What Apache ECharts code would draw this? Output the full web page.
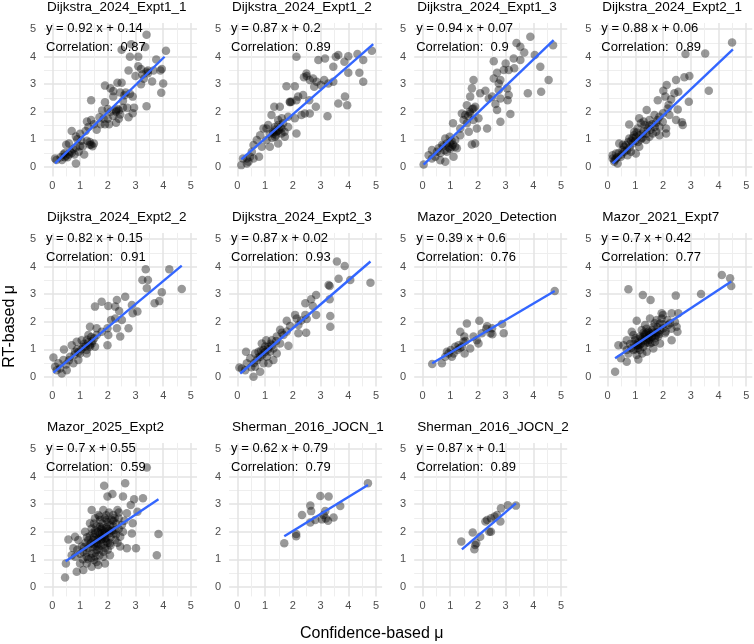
<!DOCTYPE html>
<html>
<head>
<meta charset="utf-8">
<script src="https://cdn.jsdelivr.net/npm/echarts@6/dist/echarts.min.js"></script>
<style>
  html, body { margin: 0; padding: 0; background: #fff; }
  #chart { width: 754px; height: 644px; }
</style>
</head>
<body>
<div id="chart"></div>
<script>
// facet titles and fit annotations
const panelNames = ['Dijkstra_2024_Expt1_1', 'Dijkstra_2024_Expt1_2', 'Dijkstra_2024_Expt1_3', 'Dijkstra_2024_Expt2_1',
  'Dijkstra_2024_Expt2_2', 'Dijkstra_2024_Expt2_3', 'Mazor_2020_Detection', 'Mazor_2021_Expt7',
  'Mazor_2025_Expt2', 'Sherman_2016_JOCN_1', 'Sherman_2016_JOCN_2'];
const equations = ['y = 0.92 x + 0.14', 'y = 0.87 x + 0.2', 'y = 0.94 x + 0.07', 'y = 0.88 x + 0.06',
  'y = 0.82 x + 0.15', 'y = 0.87 x + 0.02', 'y = 0.39 x + 0.6', 'y = 0.7 x + 0.42',
  'y = 0.7 x + 0.55', 'y = 0.62 x + 0.79', 'y = 0.87 x + 0.1'];
const correlations = ['0.87', '0.89', '0.9', '0.89', '0.91', '0.93', '0.76', '0.77', '0.59', '0.79', '0.89'];

// fit line end points
const fitLines = [
  [[0.1, 0.12], [4.05, 4.0]],
  [[0.14, 0.27], [4.9, 4.46]],
  [[0.04, 0.08], [4.73, 4.6]],
  [[0.18, 0.12], [4.52, 4.27]],
  [[0.04, 0.15], [4.67, 4.04]],
  [[0.1, 0.12], [4.8, 4.19]],
  [[0.35, 0.49], [4.77, 3.12]],
  [[0.27, 0.67], [4.46, 3.46]],
  [[0.48, 0.93], [3.83, 3.18]],
  [[1.69, 1.84], [4.71, 3.7]],
  [[1.42, 1.36], [3.37, 3.03]]
];

const tickValues = [0, 1, 2, 3, 4, 5];
const minorValues = [0.5, 1.5, 2.5, 3.5, 4.5];

// [confidence-based mu, RT-based mu]
const dijkstra1_1 = [[3.4,4.8],[2.85,4.45],[3.35,4.35],[2.5,4.25],[4.1,4.22],[2.8,4.0],[3.1,4.0],[3.75,3.9],[3.95,3.55],[3.9,3.5],
  [3.65,3.5],[2.75,3.5],[3.1,3.65],[3.2,3.55],[3.25,3.35],[3.45,3.5],[3.0,3.3],[3.3,3.2],[3.2,3.0],[4.0,3.03],
  [3.93,2.69],[2.5,3.05],[2.35,3.05],[1.9,2.95],[2.1,2.85],[2.2,2.75],[2.45,2.7],[2.65,2.7],[2.6,2.6],[2.8,2.65],
  [2.2,2.55],[1.4,2.42],[1.9,2.35],[2.0,2.1],[1.8,2.05],[2.1,2.0],[2.3,2.05],[2.35,2.1],[2.55,2.15],[2.7,2.15],
  [2.95,2.15],[2.9,1.95],[2.2,1.85],[2.4,1.75],[2.75,1.8],[2.0,1.75],[1.9,1.55],[2.05,1.55],[2.3,1.6],[1.75,1.55],
  [1.5,1.55],[1.25,1.65],[1.4,1.7],[1.2,1.3],[1.0,1.2],[0.9,1.0],[0.7,1.3],[0.85,1.1],[1.05,0.95],[0.5,0.8],
  [0.6,0.85],[0.75,0.65],[1.1,0.75],[1.4,0.8],[1.45,0.75],[1.35,0.9],[1.25,0.95],[1.5,0.85],[1.15,0.45],[0.85,0.7],
  [0.95,0.55],[0.6,0.45],[0.55,0.35],[0.45,0.35],[0.3,0.35],[0.1,0.3],[0.15,0.25],[0.35,0.25],[0.45,0.5],[0.85,0.12],
  [0.65,0.55],[0.8,0.45],[1.0,0.75],[1.3,1.45],[1.6,1.35],[1.7,1.8],[1.85,1.75],[2.45,1.9],[2.55,2.4],[2.9,2.55],
  [3.4,2.2],[3.6,3.1],[3.45,3.4],[0.5,0.4],[0.7,0.5],[0.4,0.45],[1.35,0.8],[2.3,2.0],[2.4,2.05],[3.4,3.45]];
const dijkstra1_2 = [[4.85,4.22],[4.33,4.1],[4.54,3.88],[4.0,4.02],[3.64,4.06],[3.86,3.82],[3.16,3.94],[2.92,3.88],[3.46,3.64],[4.0,3.42],
  [4.4,3.42],[4.54,3.09],[3.46,3.09],[2.13,4.0],[2.49,3.39],[2.73,3.21],[2.61,3.15],[2.86,3.09],[3.13,3.15],[3.28,3.03],
  [3.01,2.97],[2.77,2.91],[2.07,2.93],[1.77,2.93],[2.19,2.55],[2.37,2.61],[2.59,2.42],[2.13,2.42],[1.95,2.36],[2.83,2.18],
  [2.61,1.94],[2.43,1.94],[2.31,1.88],[3.25,1.84],[3.64,2.3],[3.96,2.24],[3.88,2.55],[1.89,2.36],[1.33,2.18],[1.53,2.18],
  [1.23,1.88],[1.47,1.7],[1.6,1.76],[1.83,1.82],[2.07,1.76],[2.13,1.21],[1.05,1.39],[1.17,1.21],[1.35,1.09],[1.4,1.27],
  [1.59,1.39],[1.65,1.58],[1.5,1.33],[1.7,1.27],[1.35,1.45],[1.47,0.85],[1.17,0.73],[1.05,0.97],[0.82,1.15],[0.7,0.97],
  [0.58,0.79],[0.52,0.55],[0.88,0.73],[0.78,0.36],[0.46,0.36],[0.34,0.12],[0.14,0.06],[0.2,0.3],[0.34,0.3],[0.58,0.3],
  [0.4,0.18],[1.59,1.21],[1.71,1.09],[1.29,1.27],[1.83,1.45],[1.11,1.52],[1.47,1.52],[0.94,1.39],[1.25,1.05],[1.4,1.15],
  [1.3,1.2],[1.45,1.3],[1.35,1.35],[1.55,1.45],[1.9,2.35],[2.4,3.25],[2.5,3.3],[3.55,4.0]];
const dijkstra1_3 = [[4.71,4.42],[3.89,4.73],[3.39,4.5],[3.53,4.36],[3.67,4.15],[4.05,4.06],[3.29,3.94],[3.53,3.88],[3.0,3.75],[2.57,3.84],
  [4.25,3.64],[4.55,3.15],[4.28,2.73],[3.8,2.67],[3.11,3.52],[2.93,3.52],[3.31,3.58],[2.69,3.42],[2.57,3.21],[2.81,3.15],
  [2.75,3.03],[3.05,2.85],[3.11,2.61],[3.07,2.42],[3.17,1.92],[2.81,2.48],[2.75,2.79],[2.51,2.55],[2.39,2.48],[2.27,2.76],
  [2.63,2.28],[2.69,2.06],[2.81,1.64],[2.33,1.39],[1.84,3.15],[1.78,2.85],[2.08,2.67],[1.72,2.55],[1.6,2.24],[1.84,2.12],
  [1.9,2.18],[1.72,1.94],[1.54,1.88],[1.42,1.94],[1.84,1.7],[2.02,1.76],[1.6,1.58],[1.67,1.27],[1.96,1.39],[1.78,0.81],
  [1.9,0.85],[1.1,1.58],[1.36,1.15],[1.18,0.97],[1.0,0.85],[0.82,1.03],[0.7,0.79],[0.58,0.67],[0.34,0.61],[0.22,0.42],
  [0.46,0.36],[0.64,0.24],[0.82,0.18],[1.12,0.36],[0.04,0.08],[0.34,0.3],[0.88,0.55],[1.06,0.73],[1.24,0.67],[0.98,1.09],
  [0.88,0.85],[1.18,0.73],[0.52,0.55],[1.36,1.39],[1.48,1.7],[0.75,0.75],[1.05,0.95],[0.65,0.5],[0.95,0.7],[1.1,0.8],
  [0.8,0.6],[1.0,0.65],[1.7,2.0],[1.8,2.1],[1.65,1.85]];
const dijkstra2_1 = [[4.49,4.52],[3.52,4.12],[2.81,4.1],[2.95,3.3],[2.77,3.25],[2.47,3.15],[2.13,2.97],[2.01,2.76],[2.08,2.55],[2.41,2.67],
  [2.55,2.73],[3.65,2.76],[2.93,2.36],[2.29,2.45],[1.81,2.42],[2.17,2.12],[2.53,2.08],[2.47,1.7],[2.71,1.52],[2.68,1.62],
  [1.41,2.06],[1.14,1.76],[0.78,1.54],[1.69,1.88],[1.87,1.82],[1.51,1.7],[1.87,1.45],[2.11,1.39],[1.75,1.27],[1.33,1.52],
  [1.08,1.39],[1.27,1.21],[1.51,1.09],[1.02,1.09],[0.78,1.03],[0.9,0.85],[0.66,0.79],[0.42,0.85],[1.14,0.73],[0.54,0.61],
  [0.3,0.48],[0.18,0.3],[0.24,0.18],[0.36,0.12],[0.48,0.36],[0.72,0.42],[0.84,0.55],[1.02,0.48],[0.18,0.42],[0.6,0.73],
  [1.63,1.21],[1.39,0.97],[1.87,1.15],[2.11,1.21],[0.96,1.27],[1.2,1.58],[1.99,1.64],[2.23,1.88],[1.3,1.3],[1.6,1.55],
  [0.85,0.95],[1.2,1.0],[0.95,1.15],[0.4,0.5],[0.3,0.3],[1.45,1.4],[1.75,1.6],[2.0,1.95],[1.1,0.9],[0.7,0.6],
  [0.5,0.45],[0.6,0.55],[0.8,0.7],[0.75,0.9],[1.0,0.95],[1.15,1.15],[1.25,1.05],[1.4,1.2],[1.55,1.35],[1.7,1.45],
  [1.05,1.25],[0.9,1.05],[0.35,0.35],[0.25,0.25],[0.55,0.8],[1.3,1.65],[1.5,1.5],[1.8,1.7],[2.2,2.25]];
const dijkstra2_2 = [[3.37,3.91],[4.22,3.91],[3.25,3.52],[3.45,3.52],[3.41,3.22],[4.67,3.19],[3.95,3.07],[3.86,2.75],[3.69,2.67],[2.63,2.91],
  [2.33,2.79],[2.02,2.57],[1.78,2.73],[1.54,2.55],[2.27,2.55],[2.87,2.61],[2.41,2.39],[2.9,2.31],[3.07,2.37],[2.27,2.12],
  [2.12,2.06],[2.51,2.06],[2.75,1.76],[2.33,1.76],[1.99,1.76],[1.78,1.64],[2.02,1.52],[2.45,1.46],[1.99,1.15],[1.6,1.76],
  [1.36,1.82],[1.3,1.52],[1.06,1.33],[0.88,1.27],[0.7,1.15],[1.12,1.09],[1.36,1.09],[1.51,1.4],[1.24,0.85],[1.0,0.85],
  [0.64,0.73],[0.42,0.99],[0.4,0.61],[0.22,0.49],[0.04,0.7],[0.1,0.36],[0.28,0.3],[0.34,0.12],[0.52,0.24],[0.76,0.49],
  [0.94,0.61],[1.24,0.97],[1.54,1.09],[1.6,1.52],[1.42,1.21],[0.82,0.91],[0.16,0.24],[1.15,1.2],[0.9,1.0],[1.25,1.35],
  [1.3,1.25],[1.2,1.1],[1.35,1.15],[1.05,1.0],[0.95,0.9],[0.8,0.8],[0.6,0.6],[0.5,0.45],[1.45,1.3],[1.4,1.45]];
const dijkstra2_3 = [[3.59,4.19],[3.87,4.03],[3.65,3.56],[4.07,3.52],[4.8,3.42],[3.29,3.34],[3.33,3.3],[3.33,2.82],[2.84,2.97],[2.66,2.82],
  [2.45,2.67],[2.72,2.57],[2.84,2.25],[3.35,2.21],[3.35,1.82],[2.45,2.25],[2.08,2.25],[2.14,2.12],[1.78,2.04],[2.2,1.88],
  [2.48,1.6],[2.2,1.58],[1.54,1.71],[1.78,1.65],[1.66,1.52],[1.84,1.13],[1.42,1.46],[1.24,1.33],[1.04,1.33],[0.88,1.21],
  [1.12,1.09],[1.3,1.03],[0.94,0.97],[0.76,0.91],[0.64,0.85],[0.82,0.73],[1.06,0.73],[0.31,0.91],[0.46,0.67],[0.34,0.49],
  [0.16,0.3],[0.07,0.34],[0.28,0.24],[0.58,0.0],[0.82,0.18],[0.64,0.36],[1.12,0.49],[1.3,0.61],[1.42,0.85],[1.54,1.21],
  [1.18,0.91],[0.94,0.49],[1.0,1.1],[1.2,1.2],[0.9,0.8],[0.7,0.6],[1.1,1.0],[1.0,0.9],[0.85,0.95],[1.25,1.15],
  [1.4,1.3],[0.75,0.7],[0.6,0.5],[0.5,0.35],[1.6,1.6],[1.9,1.85],[2.3,2.05],[2.5,2.1]];
const mazor2020 = [[4.77,3.12],[1.6,1.94],[2.05,2.04],[2.33,1.84],[2.51,1.76],[2.45,1.58],[2.52,1.55],[2.93,1.58],[2.87,1.92],[1.96,1.33],
  [2.02,1.21],[1.36,1.64],[1.51,1.46],[1.48,1.27],[1.3,1.15],[1.18,1.09],[1.02,0.97],[0.94,0.85],[1.06,0.73],[1.52,0.85],
  [1.26,0.97],[1.42,1.09],[0.82,0.73],[0.7,0.49],[0.35,0.46],[2.14,1.58],[1.84,1.46],[1.72,1.03],[0.88,0.91],[1.12,0.85],
  [1.35,1.05],[1.55,1.3],[2.3,1.75]];
const mazor2021 = [[4.12,3.7],[4.42,3.58],[4.46,3.3],[3.37,3.01],[0.75,3.18],[1.27,2.97],[1.55,2.79],[2.46,2.95],[0.27,0.18],[2.55,2.31],
  [2.31,2.31],[1.95,2.31],[2.0,2.25],[2.16,2.06],[1.77,2.06],[1.53,2.12],[1.05,2.04],[1.35,1.88],[1.65,1.82],[1.89,1.94],
  [2.49,1.82],[2.52,1.64],[2.31,1.33],[2.07,1.58],[1.83,1.46],[1.59,1.46],[1.41,1.33],[1.17,1.46],[0.99,1.33],[0.81,1.19],
  [0.57,1.15],[0.39,1.15],[0.69,0.97],[0.93,0.97],[1.17,0.97],[1.29,1.09],[1.53,1.21],[1.71,1.27],[1.89,1.21],[1.11,0.63],
  [0.69,0.55],[0.48,0.67],[1.05,0.79],[1.41,0.91],[1.23,1.7],[0.87,1.64],[1.47,1.64],[1.77,1.64],[2.01,1.76],[1.35,1.21],
  [1.05,1.15],[1.65,1.03],[0.75,0.85],[2.19,1.88],[2.43,2.0],[1.95,2.12],[0.93,1.52],[0.69,1.33],[1.29,1.46],[1.1,1.25],
  [1.5,1.5],[1.25,1.35],[1.6,1.7],[1.0,1.0],[1.4,1.6],[1.8,1.8],[1.15,1.15],[1.7,1.4],[1.2,1.2],[1.3,1.3],
  [1.45,1.4],[1.55,1.55],[1.65,1.6],[1.75,1.5],[1.9,1.7],[2.0,1.9],[1.1,1.05],[0.95,1.2],[1.35,1.55],[1.5,1.35],
  [1.85,1.55],[2.1,1.65],[2.25,1.95],[1.0,1.4],[0.85,1.05],[1.6,1.25],[1.25,0.85],[1.4,1.75],[1.7,1.95],[2.3,1.75],
  [1.2,1.4],[1.35,1.45],[1.5,1.6],[1.6,1.45],[1.1,1.15],[1.45,1.25],[1.8,1.6],[1.3,1.6]];
const mazor2025 = [[2.63,3.76],[1.87,3.67],[3.41,4.34],[2.17,3.37],[1.99,3.28],[2.55,3.28],[2.95,3.18],[3.27,3.22],[2.83,2.97],[1.42,2.79],
  [2.35,2.79],[2.69,2.67],[3.07,2.73],[2.9,2.31],[2.87,1.94],[3.83,1.92],[3.77,1.15],[3.02,1.4],[2.69,1.4],[2.45,1.46],
  [0.58,1.72],[0.82,1.82],[0.49,0.85],[0.88,0.55],[0.46,0.34],[1.12,0.61],[1.42,0.73],[1.66,0.79],[1.9,0.85],[1.0,0.85],
  [1.24,1.09],[1.06,1.46],[1.3,1.7],[1.54,1.94],[1.72,2.18],[1.96,2.43],[2.08,2.25],[2.27,2.06],[1.78,1.82],[1.6,1.46],
  [1.42,1.21],[1.84,1.27],[2.08,1.58],[2.27,1.7],[2.45,1.82],[1.36,2.31],[1.54,2.49],[1.66,2.61],[1.84,2.79],[2.2,2.61],
  [2.39,2.49],[2.51,2.25],[1.12,1.27],[0.76,1.4],[0.94,1.7],[1.18,2.0],[1.42,2.12],[1.72,1.94],[1.96,1.76],[1.84,1.09],
  [2.08,1.15],[1.51,0.97],[1.24,0.85],[0.82,1.09],[0.7,1.15],[1.48,1.7],[1.9,2.0],[2.2,1.94],[1.72,2.43],[2.14,2.43],
  [1.6,1.6],[1.75,1.7],[1.9,1.9],[2.0,2.1],[1.45,1.45],[1.65,2.0],[1.85,1.55],[2.1,1.8],[1.3,1.4],[1.55,1.25],
  [2.3,2.3],[1.95,2.6],[1.7,1.35],[1.2,1.6],[2.4,2.1],[1.5,1.8],[1.6,2.2],[1.8,2.3],[2.0,2.35],[2.2,2.2],
  [1.35,1.55],[1.45,1.95],[1.55,2.05],[1.65,1.75],[1.75,1.5],[1.85,2.05],[1.95,1.65],[2.05,1.95],[2.15,2.05],[2.3,1.9],
  [1.25,1.25],[1.4,1.05],[1.55,1.1],[1.7,1.15],[1.35,1.85],[1.5,2.3],[1.7,2.55],[1.9,2.5],[2.05,2.7],[2.2,2.4],
  [1.15,1.45],[1.0,1.2],[0.9,1.35],[1.3,1.0],[1.6,0.9],[2.0,1.35],[2.35,1.6],[2.55,2.0],[2.6,2.4],[1.8,2.15],
  [1.6,1.35],[1.8,1.75],[1.9,1.4],[2.1,1.5],[1.4,1.6],[1.65,1.55],[2.25,2.5],[1.25,1.8],[1.1,1.0],[2.4,2.7],
  [1.7,1.8],[1.8,1.95],[1.95,2.15],[2.05,2.05],[1.6,1.7],[1.75,2.1],[1.9,1.75],[2.0,1.6],[1.5,1.55],[1.85,1.85]];
const sherman1 = [[4.71,3.76],[2.99,3.3],[3.29,3.28],[3.71,2.94],[2.63,2.95],[2.66,2.75],[2.33,2.61],[3.17,2.75],[3.11,2.61],[3.47,2.52],
  [2.63,2.34],[2.81,2.43],[3.05,2.45],[3.27,2.4],[2.12,1.92],[2.12,1.84],[1.69,1.58],[3.19,2.48]];
const sherman2 = [[3.37,2.95],[3.08,2.96],[2.83,2.85],[2.81,2.37],[2.69,2.61],[2.47,2.49],[2.33,2.43],[2.41,2.0],[2.47,2.0],[2.08,1.82],
  [1.81,1.97],[1.94,1.58],[1.9,1.52],[1.87,1.36],[1.4,1.65],[2.27,2.37],[2.6,2.55]];

const panelPoints = [dijkstra1_1, dijkstra1_2, dijkstra1_3, dijkstra2_1, dijkstra2_2, dijkstra2_3,
  mazor2020, mazor2021, mazor2025, sherman1, sherman2];

const chart = echarts.init(document.getElementById('chart'));
const font = 'Liberation Sans, Arial, sans-serif';
const colLeft = [44, 229.1, 414.2, 599.3];
const rowTop = [22.9, 232.9, 442.9];
const panelW = 153, panelH = 153.5;

const grids = [], xAxes = [], yAxes = [], series = [], graphics = [];

panelNames.forEach((name, i) => {
  const left = colLeft[i % 4], top = rowTop[Math.floor(i / 4)];
  grids.push({ left: left, top: top, width: panelW, height: panelH });

  // major + minor grid lines (two axes on one panel)
  [tickValues, minorValues].forEach((vals, k) => {
    const major = k === 0;
    const common = {
      gridIndex: i,
      type: 'value',
      axisLine: { show: false },
      axisTick: { show: false, customValues: vals },
      axisLabel: {
        show: major,
        customValues: vals,
        color: '#4d4d4d',
        fontSize: 11,
        fontFamily: font
      },
      splitLine: { lineStyle: { color: major ? '#e3e3e3' : '#eeeeee', width: major ? 1.5 : 1 } }
    };
    xAxes.push(Object.assign({}, common, {
      min: -0.3, max: 5.22, position: 'bottom',
      axisLabel: Object.assign({}, common.axisLabel, { margin: 4 })
    }));
    yAxes.push(Object.assign({}, common, {
      min: -0.35, max: 5.23, position: 'left',
      axisLabel: Object.assign({}, common.axisLabel, { margin: 8 })
    }));
  });

  series.push({
    type: 'scatter',
    xAxisIndex: i * 2,
    yAxisIndex: i * 2,
    symbolSize: 8.5,
    itemStyle: { color: 'rgba(0,0,0,0.5)' },
    data: panelPoints[i],
    z: 2
  });
  series.push({
    type: 'line',
    xAxisIndex: i * 2,
    yAxisIndex: i * 2,
    showSymbol: false,
    symbol: 'none',
    lineStyle: { color: '#3366FF', width: 2.4 },
    data: fitLines[i],
    z: 3
  });

  graphics.push({
    type: 'text', left: left + 3, top: top - 23, z: 10,
    style: { text: name, font: '13.5px ' + font, fill: '#000' }
  });
  graphics.push({
    type: 'text', left: left + 2, top: top - 1, z: 10,
    style: { text: equations[i], font: '13px ' + font, fill: '#000' }
  });
  graphics.push({
    type: 'text', left: left + 2, top: top + 18, z: 10,
    style: { text: 'Correlation:  ' + correlations[i], font: '13px ' + font, fill: '#000' }
  });
});

// axis titles
graphics.push({
  type: 'text', left: 300, top: 626,
  style: { text: 'Confidence-based μ', font: '16px ' + font, fill: '#000' }
});
graphics.push({
  type: 'text', left: 2, top: 285, rotation: Math.PI / 2,
  style: { text: 'RT-based μ', font: '16px ' + font, fill: '#000' }
});

chart.setOption({
  animation: false,
  grid: grids,
  xAxis: xAxes,
  yAxis: yAxes,
  series: series,
  graphic: graphics
});
</script>
</body>
</html>
